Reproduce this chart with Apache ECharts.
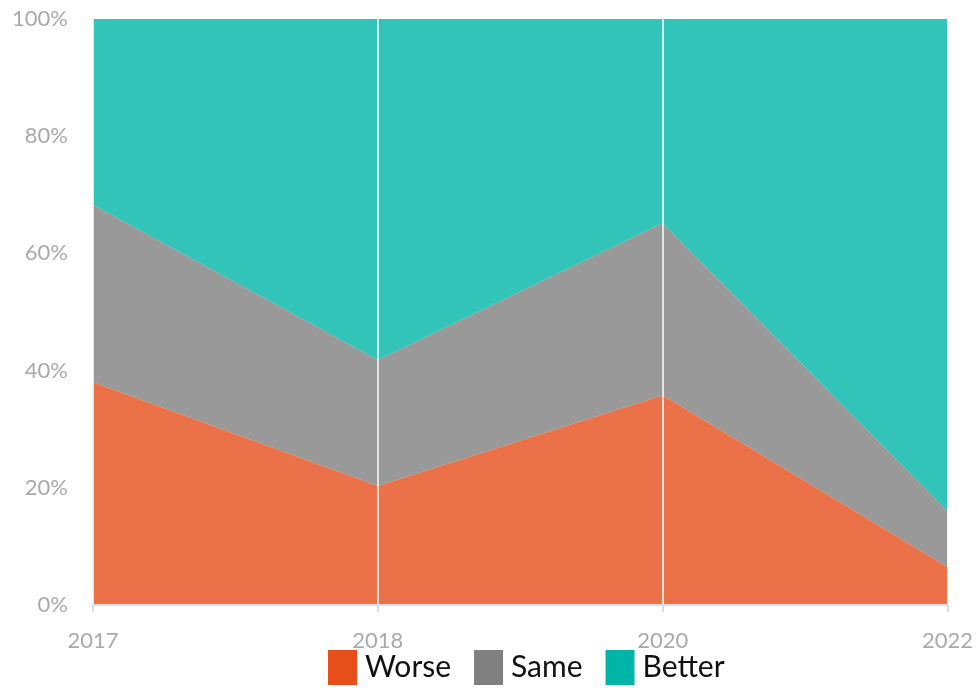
<!DOCTYPE html>
<html>
<head>
<meta charset="utf-8">
<script src="https://cdn.jsdelivr.net/npm/echarts@6/dist/echarts.min.js"></script>
<style>html,body{margin:0;padding:0;background:#fff}#c{width:976px;height:693px}</style>
</head>
<body>
<div id="c"></div>
<script>
const years = ['2017', '2018', '2020', '2022'];
const worse = [38, 20.3, 35.8, 6.5];
const same = [30.3, 21.5, 29.4, 9.5];
const better = [31.7, 58.2, 34.8, 84];
const seriesNames = ['Worse', 'Same', 'Better'];
const colors = ['#E64F1A', '#808080', '#00B5A8'];

const font = 'Lato';
const chart = echarts.init(document.getElementById('c'));
const mk = (name, data, color) => ({
  name, type: 'line', stack: 'total', data,
  symbol: 'none', showSymbol: false,
  lineStyle: { width: 0 },
  areaStyle: { color, opacity: 0.8 },
  itemStyle: { color },
  emphasis: { disabled: true }
});
chart.setOption({
  animation: false,
  textStyle: { fontFamily: font },
  grid: { left: 93, right: 28, top: 19, bottom: 88 },
  legend: {
    bottom: 3, left: 323,
    itemWidth: 29, itemHeight: 35, itemGap: 23,
    icon: 'rect',
    textStyle: { fontSize: 30, color: '#111', fontFamily: font, padding: [0, 0, 0, 3] },
    data: seriesNames
  },
  xAxis: {
    type: 'category', data: years, boundaryGap: false, z: 5,
    axisLine: { lineStyle: { color: '#dddddd', width: 2 } },
    axisTick: { show: true, length: 7, lineStyle: { color: '#dddddd', width: 2 } },
    axisLabel: { color: '#aaaaaa', fontSize: 22, margin: 25, fontFamily: font },
    splitLine: { show: true, lineStyle: { color: '#ffffff', width: 1.5 } }
  },
  yAxis: {
    type: 'value', min: 0, max: 100, interval: 20,
    axisLine: { show: false }, axisTick: { show: false },
    splitLine: { show: false },
    axisLabel: { formatter: '{value}%', color: '#aaaaaa', fontSize: 22, margin: 25, fontFamily: font }
  },
  series: [
    mk(seriesNames[0], worse, colors[0]),
    mk(seriesNames[1], same, colors[1]),
    mk(seriesNames[2], better, colors[2])
  ]
});
</script>
</body>
</html>
